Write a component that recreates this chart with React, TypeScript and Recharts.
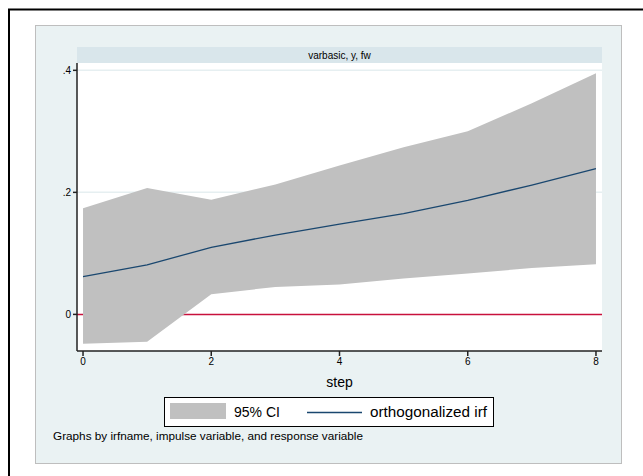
import React from 'react';
import { ComposedChart, Area, Line, XAxis, YAxis, CartesianGrid, ReferenceLine } from 'recharts';

const steps = [0, 1, 2, 3, 4, 5, 6, 7, 8];
const irf = [0.062, 0.081, 0.110, 0.130, 0.148, 0.165, 0.187, 0.212, 0.239];
const ciLower = [-0.048, -0.045, 0.033, 0.045, 0.049, 0.059, 0.067, 0.076, 0.082];
const ciUpper = [0.174, 0.207, 0.188, 0.213, 0.244, 0.274, 0.300, 0.346, 0.395];
const xTicks = [0, 2, 4, 6, 8];
const yTicks = [0, 0.2, 0.4];
const panelTitle = 'varbasic, y, fw';
const xLabel = 'step';
const legendCI = '95% CI';
const legendIrf = 'orthogonalized irf';
const footNote = 'Graphs by irfname, impulse variable, and response variable';

const data = steps.map((s, i) => ({ step: s, irf: irf[i], ci: [ciLower[i], ciUpper[i]] }));

const FONT = '"Liberation Sans", Arial, sans-serif';
const W = 643;
const H = 476;

const fmtY = (v: number) => {
  if (v === 0) return '0';
  return String(v).replace(/^0/, '');
};

export default function App() {
  return (
    <div style={{ position: 'absolute', left: 0, top: 0, width: W, height: H }}>
      <svg width={W} height={H} style={{ position: 'absolute', left: 0, top: 0 }}>
        <rect x={0} y={0} width={W} height={H} fill="#ffffff" />
        <rect x={9} y={9.5} width={W + 20} height={H + 20} fill="none" stroke="#000" strokeWidth={2} />
        <rect x={35.5} y={25.5} width={586} height={438} fill="#EAF2F3" stroke="#BEBEBE" strokeWidth={1} />
        <rect x={77} y={47} width={525} height={16} fill="#D9E6EB" />
        <rect x={77} y={63} width={525} height={288} fill="#ffffff" />
        <text x={339.5} y={58.5} textAnchor="middle" fontFamily={FONT} fontSize={10} fill="#000">{panelTitle}</text>
        <text x={339.5} y={387} textAnchor="middle" fontFamily={FONT} fontSize={14} fill="#000">{xLabel}</text>
        <rect x={164.5} y={397.5} width={329} height={29} fill="#ffffff" stroke="#000" strokeWidth={1} />
        <rect x={170} y={403} width={56} height={16} fill="#C0C0C0" />
        <text x={234} y={417} fontFamily={FONT} fontSize={14} fill="#000">{legendCI}</text>
        <line x1={307} y1={412.5} x2={362} y2={412.5} stroke="#1A476F" strokeWidth={1.3} />
        <text x={370} y={417} fontFamily={FONT} fontSize={14} fill="#000" textLength={117} lengthAdjust="spacingAndGlyphs">{legendIrf}</text>
        <text x={53} y={440} fontFamily={FONT} fontSize={11} fill="#000" textLength={310} lengthAdjust="spacingAndGlyphs">{footNote}</text>
      </svg>
      <div style={{ position: 'absolute', left: 0, top: 0 }}>
        <ComposedChart width={W} height={H} data={data} margin={{ top: 63, right: 41, bottom: 95, left: 0 }}>
          <CartesianGrid horizontal={true} vertical={false} stroke="#E6EFF1" strokeWidth={1.5} horizontalValues={[0.2, 0.4]} />
          <ReferenceLine y={0} stroke="#C8103C" strokeWidth={1.5} zIndex={50} ifOverflow="hidden" />
          <XAxis
            dataKey="step"
            type="number"
            domain={[-0.094, 8.094]}
            ticks={xTicks}
            allowDataOverflow
            axisLine={{ stroke: '#222', strokeWidth: 1.5 }}
            tickLine={{ stroke: '#222', strokeWidth: 1.5 }}
            tickSize={5}
            tickMargin={2}
            height={30}
            tick={{ fontFamily: FONT, fontSize: 10, fill: '#000' }}
          />
          <YAxis
            type="number"
            domain={[-0.06, 0.412]}
            ticks={yTicks}
            allowDataOverflow
            tickFormatter={fmtY}
            axisLine={{ stroke: '#222', strokeWidth: 1.5 }}
            tickLine={{ stroke: '#222', strokeWidth: 1.5 }}
            tickSize={4}
            tickMargin={2}
            width={77}
            tick={{ fontFamily: FONT, fontSize: 10, fill: '#000' }}
          />
          <Area dataKey="ci" type="linear" fill="#C0C0C0" fillOpacity={1} stroke="none" isAnimationActive={false} />
          <Line dataKey="irf" type="linear" stroke="#1A476F" strokeWidth={1.3} dot={false} isAnimationActive={false} />
        </ComposedChart>
      </div>
    </div>
  );
}
